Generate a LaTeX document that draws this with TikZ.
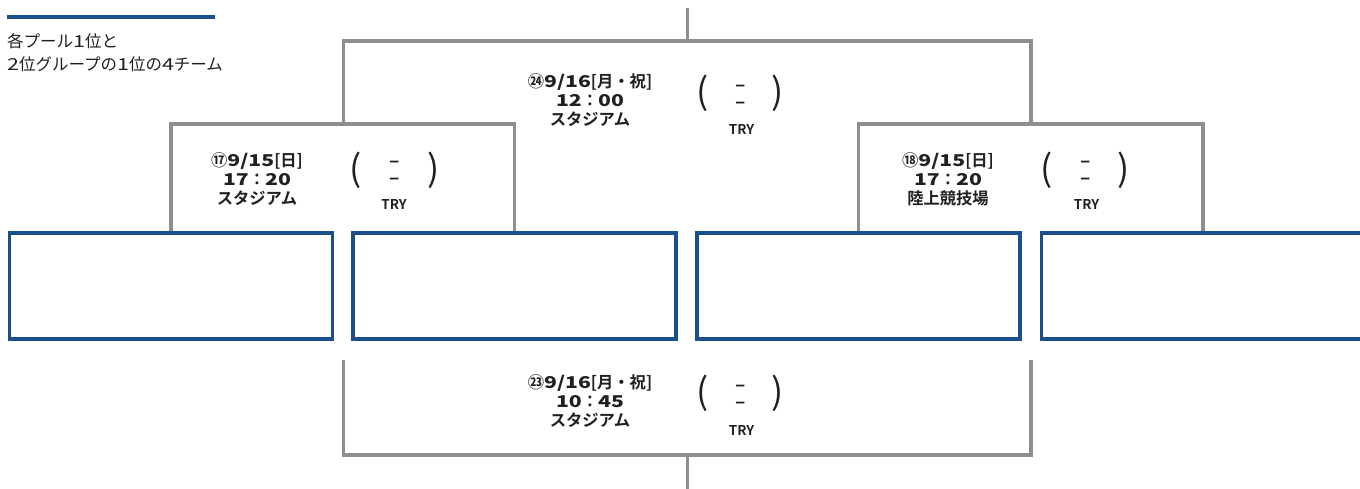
\documentclass[tikz,border=0pt]{standalone}
\usepackage{fontspec}
\setmainfont{Noto Sans CJK JP}[BoldFont={Noto Sans CJK JP Bold}]
\newfontfamily\widebold{Noto Sans CJK JP Bold}[FakeStretch=1.3]
\newfontfamily\wideregular{Noto Sans CJK JP}[FakeStretch=1.3]
\definecolor{navy}{HTML}{1B4F8C}
\definecolor{gline}{HTML}{8E8E90}
\definecolor{ink}{HTML}{231F20}
\newcommand\wdb[1]{{\widebold #1}}
\newcommand\wdr[1]{{\wideregular #1}}
\begin{document}
\begin{tikzpicture}[x=1pt,y=-1pt,
  gl/.style={draw=gline,line width=3.5pt,line join=miter},
  teambox/.style={draw=navy,line width=3.5pt,minimum width=323pt,minimum height=106pt,inner sep=0pt,outer sep=0pt},
  matchlbl/.style={text=ink,font=\bfseries\fontsize{16.3}{19}\selectfont,align=center,inner sep=0pt,anchor=base},
  paren/.style={text=ink,font=\fontsize{36}{36}\selectfont,inner sep=0pt,anchor=center},
  dashmark/.style={text=ink,font=\bfseries\fontsize{19}{19}\selectfont,inner sep=0pt,anchor=center},
  trylbl/.style={text=ink,font=\bfseries\fontsize{13.5}{14}\selectfont,inner sep=0pt,anchor=base},
  note/.style={text=ink,font=\fontsize{16.5}{23}\selectfont,align=left,inner sep=0pt,anchor=base west}]
\useasboundingbox (0,0) rectangle (1360,489);
% heading bar and note
\fill[navy] (7,15) rectangle (215,19.5);
\node[note] (note) at (7,71) {各プール\wdr{1}位と\\\wdr{2}位グループの\wdr{1}位の\wdr{4}チーム};
% team boxes
\node[teambox] (b1) at (171,286) {};
\node[teambox] (b2) at (514.5,286) {};
\node[teambox] (b3) at (858.5,286) {};
\node[teambox] (b4) at (1203.2,286) {};
% brackets
\coordinate (lm) at (343.5,124);
\coordinate (rm) at (1031,124);
\coordinate (topend) at (687.5,8);
\coordinate (botend) at (687.5,495);
\coordinate (bl) at (343.5,360);
\coordinate (br) at (1031,360);
\draw[gl] ([yshift=1.75pt]b1.north) -- (b1.north |- lm) -- (b2.north |- lm) -- ([yshift=1.75pt]b2.north);
\draw[gl] ([yshift=1.75pt]b3.north) -- (b3.north |- rm) -- (b4.north |- rm) -- ([yshift=1.75pt]b4.north);
\draw[gl] (lm) -- (lm |- 0,41) -- (rm |- 0,41) -- (rm);
\draw[gl] (topend) -- (topend |- 0,41);
\draw[gl] (bl) -- (bl |- 0,455) -- (br |- 0,455) -- (br);
\draw[gl] (botend) -- (botend |- 0,455);
% match 24 (final)
\node[matchlbl] (m24) at (590,126) {㉔\wdb{9/16}[月・祝]\\\wdb{12}：\wdb{00}\\スタジアム};
\node[paren] (m24l) at (702.5,93) {(};
\node[paren] (m24r) at (778,93) {)};
\node[dashmark] (m24a) at (741,88) {–};
\node[dashmark] (m24b) at (741,105.5) {–};
\node[trylbl] (m24t) at (741.5,135) {TRY};
% match 17
\node[matchlbl] (m17) at (257,205) {⑰\wdb{9/15}[日]\\\wdb{17}：\wdb{20}\\スタジアム};
\node[paren] (m17l) at (356,170) {(};
\node[paren] (m17r) at (434,170) {)};
\node[dashmark] (m17a) at (395,164.3) {–};
\node[dashmark] (m17b) at (395,181.7) {–};
\node[trylbl] (m17t) at (394,210) {TRY};
% match 18
\node[matchlbl] (m18) at (948,205) {⑱\wdb{9/15}[日]\\\wdb{17}：\wdb{20}\\陸上競技場};
\node[paren] (m18l) at (1047,170) {(};
\node[paren] (m18r) at (1124,170) {)};
\node[dashmark] (m18a) at (1086,164.3) {–};
\node[dashmark] (m18b) at (1086,181.7) {–};
\node[trylbl] (m18t) at (1086.5,210) {TRY};
% match 23
\node[matchlbl] (m23) at (590,426) {㉓\wdb{9/16}[月・祝]\\\wdb{10}：\wdb{45}\\スタジアム};
\node[paren] (m23l) at (702.5,393) {(};
\node[paren] (m23r) at (778,393) {)};
\node[dashmark] (m23a) at (741,388) {–};
\node[dashmark] (m23b) at (741,405.5) {–};
\node[trylbl] (m23t) at (741.5,435) {TRY};
\end{tikzpicture}
\end{document}
